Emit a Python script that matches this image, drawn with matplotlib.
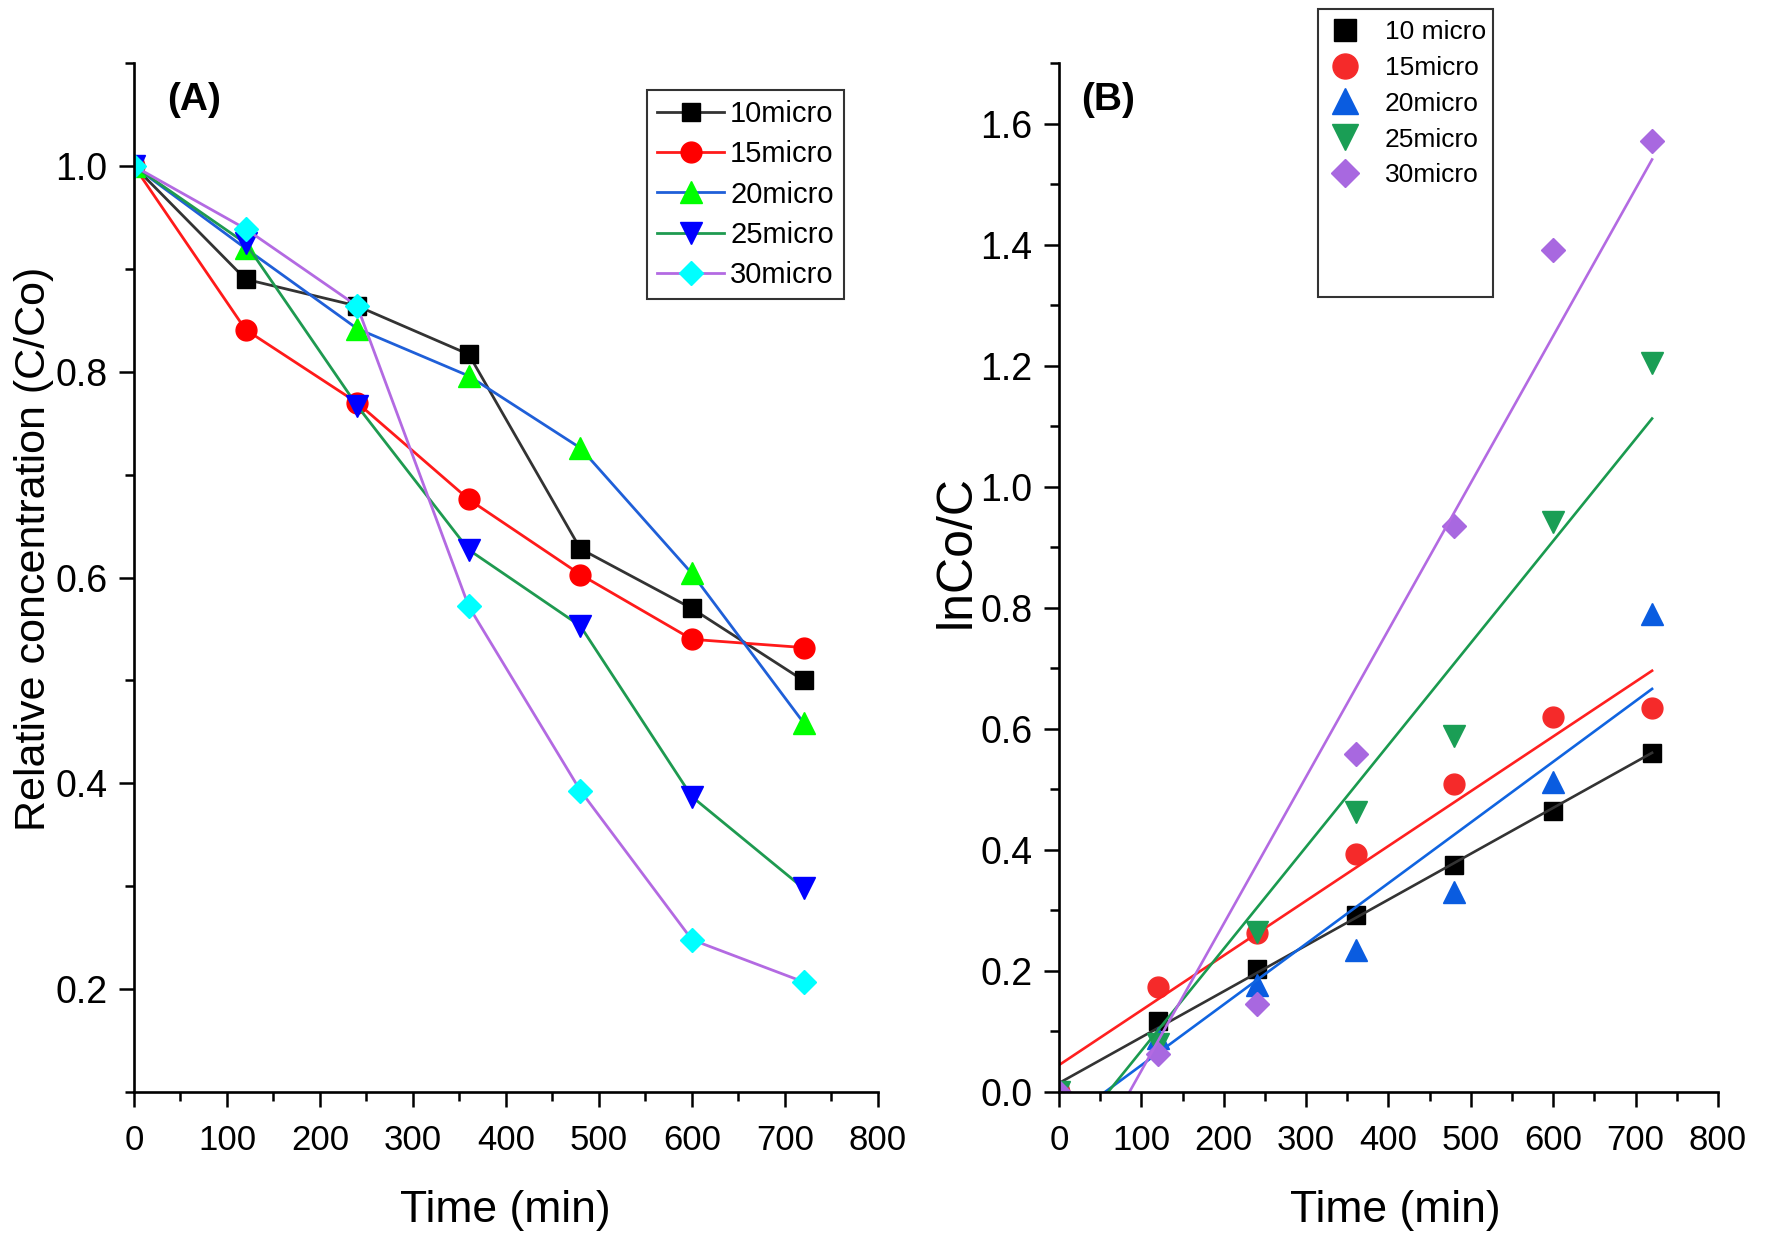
import numpy as np
import matplotlib
matplotlib.use('Agg')
import matplotlib.pyplot as plt
from matplotlib.patches import Rectangle
from matplotlib.ticker import MultipleLocator

plt.rcParams['font.family'] = ['Liberation Sans', 'DejaVu Sans']

# 时间与各粒径数据
t = [0, 120, 240, 360, 480, 600, 720]
labels_a = ['10micro', '15micro', '20micro', '25micro', '30micro']
labels_b = ['10 micro', '15micro', '20micro', '25micro', '30micro']

# (A) 相对浓度 C/Co
c10 = [1.0, 0.890, 0.864, 0.817, 0.628, 0.570, 0.500]
c15 = [1.0, 0.841, 0.770, 0.676, 0.603, 0.540, 0.532]
c20 = [1.0, 0.920, 0.842, 0.796, 0.726, 0.604, 0.459]
c25 = [1.0, 0.925, 0.767, 0.627, 0.553, 0.387, 0.298]
c30 = [1.0, 0.939, 0.864, 0.572, 0.393, 0.248, 0.207]

# (B) lnCo/C
k10 = [0.0, 0.117, 0.204, 0.292, 0.375, 0.465, 0.560]
k15 = [0.0, 0.174, 0.262, 0.393, 0.509, 0.620, 0.634]
k20 = [0.0, 0.090, 0.177, 0.234, 0.331, 0.513, 0.790]
k25 = [0.0, 0.080, 0.265, 0.463, 0.588, 0.942, 1.205]
k30 = [0.0, 0.063, 0.146, 0.559, 0.935, 1.392, 1.571]

fig = plt.figure(figsize=(17.7, 12.44), dpi=100)
ax1 = fig.add_axes([0.0757, 0.1222, 0.4203, 0.827])
ax2 = fig.add_axes([0.5983, 0.1222, 0.3723, 0.827])


def style_axis(ax):
    for s in ['top', 'right']:
        ax.spines[s].set_visible(False)
    for s in ['left', 'bottom']:
        ax.spines[s].set_linewidth(1.9)
    ax.tick_params(which='major', direction='out', length=11, width=1.8, labelsize=27, pad=8)
    ax.tick_params(axis='x', which='major', labelsize=25, pad=12)
    ax.tick_params(which='minor', direction='out', length=6.5, width=1.8)
    ax.xaxis.set_major_locator(MultipleLocator(100))
    ax.xaxis.set_minor_locator(MultipleLocator(50))
    ax.yaxis.set_minor_locator(MultipleLocator(0.1))
    ax.yaxis.set_major_locator(MultipleLocator(0.2))
    ax.yaxis.set_major_formatter(matplotlib.ticker.FormatStrFormatter('%.1f'))
    ax.set_xlim(0, 800)


# 绘制 (A)
series_a = [
    (c10, '#333333', 's', 'black', 13),
    (c15, '#ff1a1a', 'o', '#ff0000', 15),
    (c20, '#1f5fd8', '^', '#00ff00', 16),
    (c25, '#1e9a50', 'v', '#0000ff', 16),
    (c30, '#b36ae2', 'D', '#00ffff', 12),
]
for (y, lc, m, mc, ms), lab in zip(series_a, labels_a):
    ax1.plot(t, y, color=lc, lw=2.0, marker=m, ms=ms, mfc=mc, mec=mc, label=lab)

ax1.set_ylim(0.1, 1.1)
style_axis(ax1)
ax1.set_xlabel('Time (min)', fontsize=32, va='center')
ax1.set_ylabel('Relative concentration (C/Co)', fontsize=31, va='center')
ax1.xaxis.set_label_coords(0.499, -0.115)
ax1.yaxis.set_label_coords(-0.134, 0.528)
ax1.text(0.044, 0.964, '(A)', transform=ax1.transAxes, fontsize=28,
         fontweight='bold', va='center', ha='left')
leg = ax1.legend(loc='upper left', bbox_to_anchor=(0.6895, 0.974), borderaxespad=0,
                 fontsize=21, handlelength=2.3, labelspacing=0.42, handletextpad=0.2,
                 borderpad=0.35, fancybox=False, edgecolor='#333333', framealpha=1)
leg.get_frame().set_linewidth(1.5)

# 绘制 (B)
series_b = [
    (k10, 's', 'black', '#333333', 13),
    (k15, 'o', '#f52a2a', '#ff2020', 15),
    (k20, '^', '#0a5ce0', '#1064e0', 16),
    (k25, 'v', '#1a9e55', '#1a9a4f', 16),
    (k30, 'D', '#a868e0', '#b36ae2', 12),
]
t_arr = np.array(t, dtype=float)
t_end = np.array([t_arr.min(), t_arr.max()])
handles = []
for (y, m, mc, lc, ms), lab in zip(series_b, labels_b):
    h, = ax2.plot(t, y, ls='none', marker=m, ms=ms, mfc=mc, mec=mc, label=lab)
    handles.append(h)
    p = np.polyfit(t_arr, np.array(y), 1)
    ax2.plot(t_end, np.polyval(p, t_end), color=lc, lw=1.9)

ax2.set_ylim(0, 1.7)
style_axis(ax2)
ax2.set_xlabel('Time (min)', fontsize=32, va='center')
ax2.set_ylabel('lnCo/C', fontsize=36, va='center')
ax2.xaxis.set_label_coords(0.511, -0.115)
ax2.yaxis.set_label_coords(-0.155, 0.525)
ax2.text(0.033, 0.964, '(B)', transform=ax2.transAxes, fontsize=28,
         fontweight='bold', va='center', ha='left')

fig.legend(handles, labels_b, loc='upper left', bbox_to_anchor=(0.751, 0.984),
           frameon=False, fontsize=19, labelspacing=0.45, handletextpad=0.9,
           handlelength=1.2, borderaxespad=0, borderpad=0, markerscale=1.2)
fig.patches.append(Rectangle((0.7446, 0.7613), 0.0989, 0.2315, transform=fig.transFigure,
                             fill=False, edgecolor='#333333', lw=1.5))

fig.savefig('out.png', dpi=100)
